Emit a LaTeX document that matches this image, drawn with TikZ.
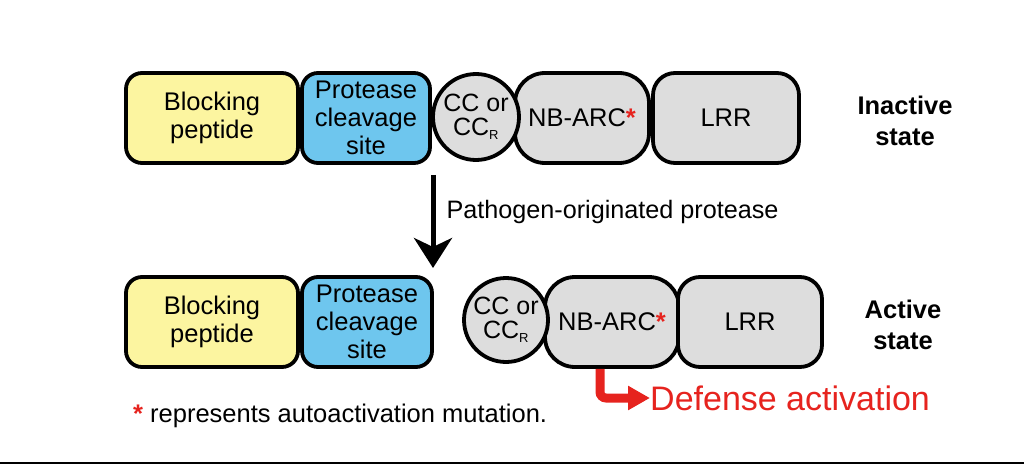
\documentclass[tikz,border=0pt]{standalone}
\usepackage{fontspec}
\setmainfont{Liberation Sans}
\usetikzlibrary{arrows.meta}

\definecolor{peptideyellow}{RGB}{252,245,160}
\definecolor{siteblue}{RGB}{110,198,238}
\definecolor{domaingray}{RGB}{221,221,221}
\definecolor{defensered}{RGB}{230,35,30}

\newcommand{\mutstar}{\textcolor{defensered}{\textbf{*}}}

\tikzset{
  domainbox/.style={draw, line width=3.8pt, rounded corners=16pt, align=center,
    inner sep=0pt, minimum height=90pt, font=\fontsize{25.5}{28}\selectfont},
  ccdomain/.style={draw, circle, line width=3.8pt, fill=domaingray, align=center,
    inner sep=0pt, minimum size=86pt, font=\fontsize{25}{24}\selectfont},
  statelabel/.style={align=center, font=\fontsize{25.5}{31}\selectfont\bfseries},
}

\begin{document}
\begin{tikzpicture}[x=1pt,y=-1pt]
  \useasboundingbox (0,0) rectangle (1024,465);

  % Inactive state (top row)
  \node[domainbox, fill=peptideyellow, minimum width=172pt] (block1) at (212,118) {Blocking\\peptide};
  \node[domainbox, fill=siteblue, minimum width=128pt] (site1) at (366,118) {Protease\\cleavage\\site};
  \node[domainbox, fill=domaingray, minimum width=134pt, rounded corners=30pt] (nbarc1) at (582,118) {NB-ARC\mutstar};
  \node[domainbox, fill=domaingray, minimum width=146pt, rounded corners=22pt] (lrr1) at (726,118) {LRR};
  \node[ccdomain] (cc1) at (476,117) {CC or\\CC\textsubscript{\fontsize{13}{13}\selectfont R}};
  \node[statelabel] (inactive) at (905,121) {Inactive\\state};

  % Active state (bottom row)
  \node[domainbox, fill=peptideyellow, minimum width=172pt] (block2) at (212,322) {Blocking\\peptide};
  \node[domainbox, fill=siteblue, minimum width=130pt] (site2) at (367,322) {Protease\\cleavage\\site};
  \node[domainbox, fill=domaingray, minimum width=134pt, rounded corners=30pt] (nbarc2) at (612,322) {NB-ARC\mutstar};
  \node[domainbox, fill=domaingray, minimum width=144pt, rounded corners=22pt] (lrr2) at (750,322) {LRR};
  \node[ccdomain, minimum size=84pt] (cc2) at (506,320) {CC or\\CC\textsubscript{\fontsize{13}{13}\selectfont R}};
  \node[statelabel] (active) at (903,325) {Active\\state};

  % Cleavage arrow
  \coordinate (cleave) at (433,175);
  \coordinate (cleaved) at (433,268);
  \draw[line width=5pt, -{Stealth[length=30pt,width=38pt,inset=9pt]}] (cleave) -- (cleaved);
  \node[anchor=west, font=\fontsize{25.2}{28}\selectfont] (protease) at (443,212) {Pathogen-originated protease};

  % Defense activation
  \node[anchor=west, text=defensered, font=\fontsize{34}{40}\selectfont, inner sep=0pt] (defense) at (650,398) {Defense activation};
  \draw[defensered, line width=9pt, rounded corners=6pt, -{Triangle[length=22pt,width=23pt]}]
    ([xshift=-12pt]nbarc2.south) |- (defense.west);

  % Legend
  \node[anchor=west, font=\fontsize{25.5}{28}\selectfont, inner sep=0pt] (note) at (133,416) {\mutstar{} represents autoactivation mutation.};

  \draw[line width=2.5pt] (0,463) -- (1024,463);
\end{tikzpicture}
\end{document}
